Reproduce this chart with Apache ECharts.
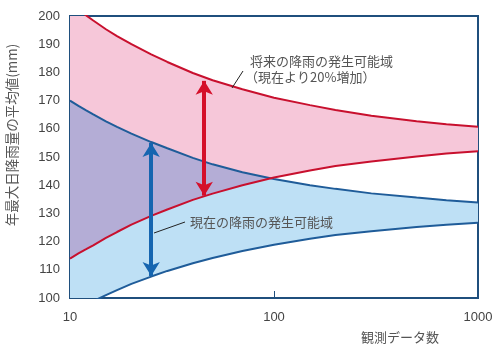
<!DOCTYPE html>
<html>
<head>
<meta charset="utf-8">
<script src="https://cdn.jsdelivr.net/npm/echarts@6/dist/echarts.min.js"></script>
<style>
html, body { margin: 0; padding: 0; background: #fff; }
#chart { width: 500px; height: 353px; }
</style>
</head>
<body>
<div id="chart"></div>
<script>
// 観測データ数（対数軸）
var counts = [10, 11, 12, 13, 15, 17, 20, 25, 30, 40, 50, 70, 100, 150, 200, 300, 500, 700, 1000];
// 現在の降雨の発生可能域（上限・下限）
var nowUpper = [170.0, 168.1, 166.5, 165.1, 162.6, 160.7, 158.3, 155.3, 153.1, 149.7, 147.4, 144.6, 142.2, 140.0, 138.7, 137.1, 135.6, 134.7, 133.9];
var nowLower = [94.6, 96.2, 97.6, 98.9, 101.0, 102.8, 105.0, 107.6, 109.6, 112.3, 114.2, 116.7, 118.9, 121.0, 122.3, 123.7, 125.2, 126.0, 126.7];
// 将来の降雨の発生可能域（現在より20%増加）
var futUpper = [204.5, 202.2, 200.2, 198.4, 195.3, 192.9, 190.0, 186.4, 183.7, 179.8, 177.2, 174.0, 171.0, 168.4, 166.7, 164.6, 162.7, 161.6, 160.7];
var futLower = [114.0, 115.8, 117.3, 118.7, 121.3, 123.4, 126.0, 129.1, 131.4, 134.8, 137.0, 140.0, 142.7, 145.2, 146.8, 148.4, 150.2, 151.2, 152.0];
// 矢印（観測データ数, 下端, 上端）
var nowArrow = [25, 107.8, 155.0];
var futArrow = [45.5, 136.3, 177.0];
var yTicks = [100, 110, 120, 130, 140, 150, 160, 170, 180, 190, 200];

var chart = echarts.init(document.getElementById('chart'));

function pairs(ys) {
	var out = [];
	for(var i = 0; i < counts.length; i++) {
		out.push([counts[i], ys[i]]);
	}
	return out;
}

function bandPoints(api, lower, upper) {
	var pts = [];
	for(var i = 0; i < counts.length; i++) {
		pts.push(api.coord([counts[i], upper[i]]));
	}
	for(var j = counts.length - 1; j >= 0; j--) {
		pts.push(api.coord([counts[j], lower[j]]));
	}
	return pts;
}

// 現在と将来の帯、および重なり部分
function renderBands(params, api) {
	var cs = params.coordSys;
	var nowPts = bandPoints(api, nowLower, nowUpper);
	var futPts = bandPoints(api, futLower, futUpper);
	return {
		type: 'group',
		clipPath: { type: 'rect', shape: { x: cs.x, y: cs.y, width: cs.width, height: cs.height } },
		children: [
			{ type: 'polygon', shape: { points: nowPts }, style: { fill: '#bee0f5' } },
			{ type: 'polygon', shape: { points: futPts }, style: { fill: '#f6c7d9' } },
			{
				type: 'polygon', shape: { points: nowPts }, style: { fill: '#b4add6' },
				clipPath: { type: 'polygon', shape: { points: futPts } }
			}
		]
	};
}

function curve(name, ys, color, z) {
	return {
		name: name,
		type: 'line',
		data: pairs(ys),
		symbol: 'none',
		smooth: false,
		clip: true,
		z: z,
		lineStyle: { color: color, width: 2 }
	};
}

function arrow(a, color) {
	return {
		type: 'line',
		data: [],
		z: 6,
		markLine: {
			silent: true,
			symbol: ['arrow', 'arrow'],
			symbolSize: [13, 14],
			label: { show: false },
			lineStyle: { color: color, width: 4, type: 'solid' },
			data: [[{ coord: [a[0], a[1]] }, { coord: [a[0], a[2]] }]]
		}
	};
}

var textStyle = { fill: '#555', fontSize: 13, fontFamily: '"Noto Sans CJK JP", sans-serif' };

var option = {
	animation: false,
	grid: {
		left: 70, right: 22, top: 16, bottom: 55,
		show: true, borderColor: '#1f4f7d', borderWidth: 2, backgroundColor: 'transparent'
	},
	xAxis: {
		type: 'log',
		logBase: 10,
		min: 10,
		max: 1000,
		axisLine: { show: false },
		axisTick: { show: true, inside: true, length: 7, lineStyle: { color: '#1f4f7d', width: 1 } },
		splitLine: { show: false },
		minorTick: { show: false },
		axisLabel: {
			color: '#444', fontSize: 13, margin: 13, fontFamily: 'Arial, "Liberation Sans", sans-serif',
			formatter: function(v) { return String(Math.round(v)); }
		}
	},
	yAxis: {
		type: 'value',
		min: yTicks[0],
		max: yTicks[yTicks.length - 1],
		interval: 10,
		axisLine: { show: false },
		axisTick: { show: false },
		splitLine: { show: false },
		axisLabel: { color: '#444', fontSize: 13, margin: 10, fontFamily: 'Arial, "Liberation Sans", sans-serif' }
	},
	graphic: [
		{ type: 'text', x: 12, y: 135, rotation: Math.PI / 2, z: 100,
			style: Object.assign({ text: '年最大日降雨量の平均値(mm)', align: 'center', verticalAlign: 'middle' }, textStyle, { fontSize: 13.5 }) },
		{ type: 'text', x: 400, y: 337, z: 100,
			style: Object.assign({ text: '観測データ数', align: 'center', verticalAlign: 'middle' }, textStyle) },
		{ type: 'text', x: 250, y: 61, z: 100,
			style: Object.assign({ text: '将来の降雨の発生可能域', align: 'left', verticalAlign: 'middle' }, textStyle) },
		{ type: 'text', x: 245, y: 77, z: 100,
			style: Object.assign({ text: '（現在より20%増加）', align: 'left', verticalAlign: 'middle' }, textStyle) },
		{ type: 'text', x: 190, y: 222, z: 100,
			style: Object.assign({ text: '現在の降雨の発生可能域', align: 'left', verticalAlign: 'middle' }, textStyle) },
		{ type: 'line', shape: { x1: 232, y1: 88, x2: 243, y2: 71 }, style: { stroke: '#222', lineWidth: 1 }, z: 100 },
		{ type: 'line', shape: { x1: 154, y1: 233, x2: 185, y2: 222 }, style: { stroke: '#222', lineWidth: 1 }, z: 100 }
	],
	series: [
		{ type: 'custom', renderItem: renderBands, data: [[10, 150]], z: 1, silent: true },
		curve('nowUpper', nowUpper, '#1f5c99', 3),
		curve('nowLower', nowLower, '#1f5c99', 3),
		curve('futUpper', futUpper, '#c8102e', 4),
		curve('futLower', futLower, '#c8102e', 4),
		arrow(nowArrow, '#1565b0'),
		arrow(futArrow, '#d50f2a')
	]
};

chart.setOption(option);
</script>
</body>
</html>
